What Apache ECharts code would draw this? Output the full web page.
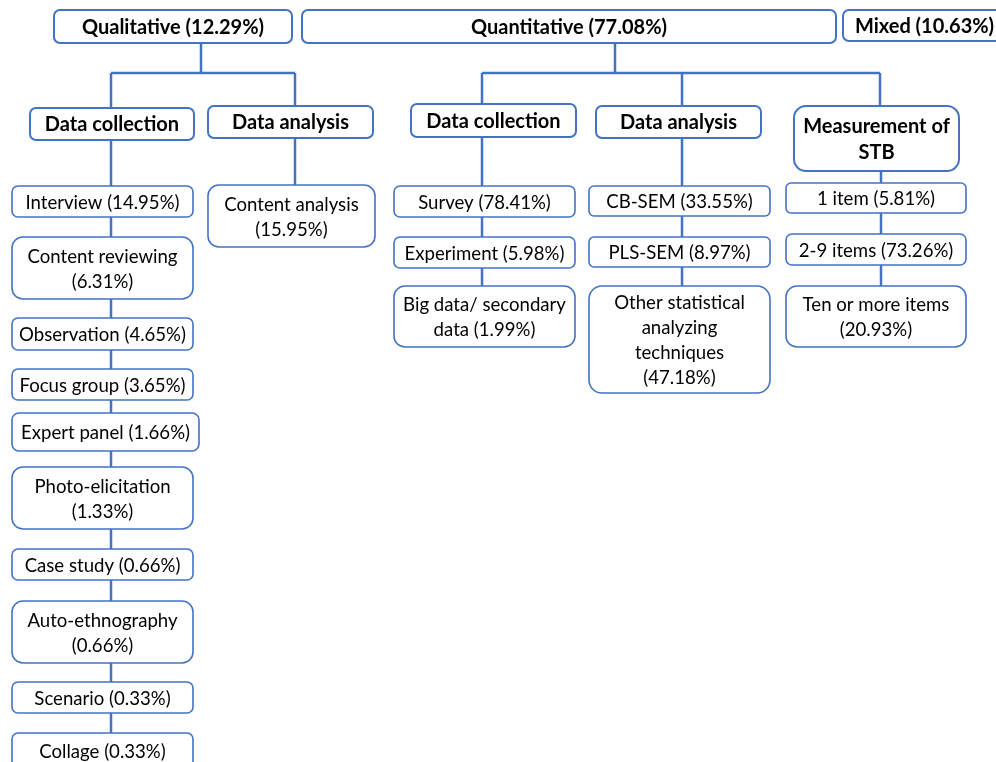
<!DOCTYPE html>
<html>
<head>
<meta charset="utf-8">
<script src="https://cdn.jsdelivr.net/npm/echarts@6/dist/echarts.min.js"></script>
<style>
  html, body { margin: 0; padding: 0; background: #fff; }
  #main { width: 996px; height: 762px; }
</style>
</head>
<body>
<div id="main"></div>
<script>
// 文本数据
var topLabels = ['Qualitative (12.29%)', 'Quantitative (77.08%)', 'Mixed (10.63%)'];
var qualHeads = ['Data collection', 'Data analysis'];
var quantHeads = ['Data collection', 'Data analysis', 'Measurement of\nSTB'];
var qualCollection = [
  'Interview (14.95%)', 'Content reviewing\n(6.31%)', 'Observation (4.65%)',
  'Focus group (3.65%)', 'Expert panel (1.66%)', 'Photo-elicitation\n(1.33%)',
  'Case study (0.66%)', 'Auto-ethnography\n(0.66%)', 'Scenario (0.33%)', 'Collage (0.33%)'
];
var qualAnalysis = ['Content analysis\n(15.95%)'];
var quantCollection = ['Survey (78.41%)', 'Experiment (5.98%)', 'Big data/ secondary\ndata (1.99%)'];
var quantAnalysis = ['CB-SEM (33.55%)', 'PLS-SEM (8.97%)', 'Other statistical\nanalyzing\ntechniques\n(47.18%)'];
var stbItems = ['1 item (5.81%)', '2-9 items (73.26%)', 'Ten or more items\n(20.93%)'];

// 版面布局 (与数据分开)
var BAR_Y = 73;
var topBoxes = [[54, 10, 292, 43], [302, 10, 836, 43], [843, 10, 1006, 41]];
var topStems = [201, 615, null];
var headBoxes = [
  [[30, 108, 194, 140], [208, 106, 373, 138]],
  [[411, 104, 576, 137], [596, 106, 761, 138], [794, 106, 959, 171]]
];
var headLinks = [[111, 295], [482, 682, 880]];
var columns = [
  [
    { x: [12, 193], link: 111, rows: [[186, 217], [237, 299], [318, 350], [369, 400], [413, 451, 199], [467, 529], [549, 580], [601, 663], [682, 713], [733, 768]] },
    { x: [208, 375], link: 295, rows: [[185, 247]] }
  ],
  [
    { x: [394, 575], link: 482, rows: [[186, 217], [237, 268], [286, 347]] },
    { x: [589, 770], link: 682, rows: [[186, 216], [237, 267], [286, 393]] },
    { x: [786, 966], link: 881, rows: [[183, 213], [234, 265], [286, 347]] }
  ]
];
var headLabels = [qualHeads, quantHeads];
var columnLabels = [[qualCollection, qualAnalysis], [quantCollection, quantAnalysis, stbItems]];

// 组装方框和连线
var boxes = [];
var segments = [];
topLabels.forEach(function (label, i) {
  var b = topBoxes[i];
  boxes.push({ value: b, label: label, bold: true, level: 0 });
  if (topStems[i] == null) return;
  var links = headLinks[i];
  segments.push([topStems[i], b[3], topStems[i], BAR_Y]);
  segments.push([links[0], BAR_Y, links[links.length - 1], BAR_Y]);
  headLabels[i].forEach(function (h, j) {
    var hb = headBoxes[i][j];
    boxes.push({ value: hb, label: h, bold: true, level: 1 });
    segments.push([links[j], BAR_Y, links[j], hb[1]]);
    var col = columns[i][j];
    var items = columnLabels[i][j];
    items.forEach(function (t, k) {
      var r = col.rows[k];
      boxes.push({ value: [col.x[0], r[0], r[2] || col.x[1], r[1]], label: t, bold: false, level: 2 });
    });
    segments.push([col.link, hb[3], col.link, col.rows[items.length - 1][0]]);
  });
});

var myChart = echarts.init(document.getElementById('main'));
var BLUE = '#4472C4';

var option = {
  animation: false,
  grid: { left: 0, right: 0, top: 0, bottom: 0 },
  xAxis: { type: 'value', min: 0, max: 996, show: false },
  yAxis: { type: 'value', min: 0, max: 762, inverse: true, show: false },
  series: [
    {
      type: 'custom',
      encode: { x: [0, 2], y: [1, 3] },
      data: segments,
      renderItem: function (params, api) {
        var p0 = api.coord([api.value(0), api.value(1)]);
        var p1 = api.coord([api.value(2), api.value(3)]);
        return {
          type: 'line',
          shape: { x1: p0[0], y1: p0[1], x2: p1[0], y2: p1[1] },
          style: { stroke: BLUE, lineWidth: 2.5 }
        };
      }
    },
    {
      type: 'custom',
      encode: { x: [0, 2], y: [1, 3] },
      data: boxes.map(function (b) { return b.value; }),
      renderItem: function (params, api) {
        var b = boxes[params.dataIndex];
        var p0 = api.coord([api.value(0), api.value(1)]);
        var p1 = api.coord([api.value(2), api.value(3)]);
        var w = p1[0] - p0[0], h = p1[1] - p0[1];
        var r = Math.min(13, Math.round(h * 0.18));
        return {
          type: 'group',
          children: [
            {
              type: 'rect',
              shape: { x: p0[0], y: p0[1], width: w, height: h, r: r },
              style: { fill: '#fff', stroke: BLUE, lineWidth: b.level < 2 ? 2 : 1.6 }
            },
            {
              type: 'text',
              style: {
                text: b.label,
                x: p0[0] + w / 2,
                y: p0[1] + h / 2 + 1,
                textAlign: 'center',
                textVerticalAlign: 'middle',
                font: b.bold ? 'bold 20px Lato' : '18.6px Lato',
                lineHeight: b.bold ? 26 : 25,
                fill: '#000'
              }
            }
          ]
        };
      }
    }
  ]
};

myChart.setOption(option);
</script>
</body>
</html>
